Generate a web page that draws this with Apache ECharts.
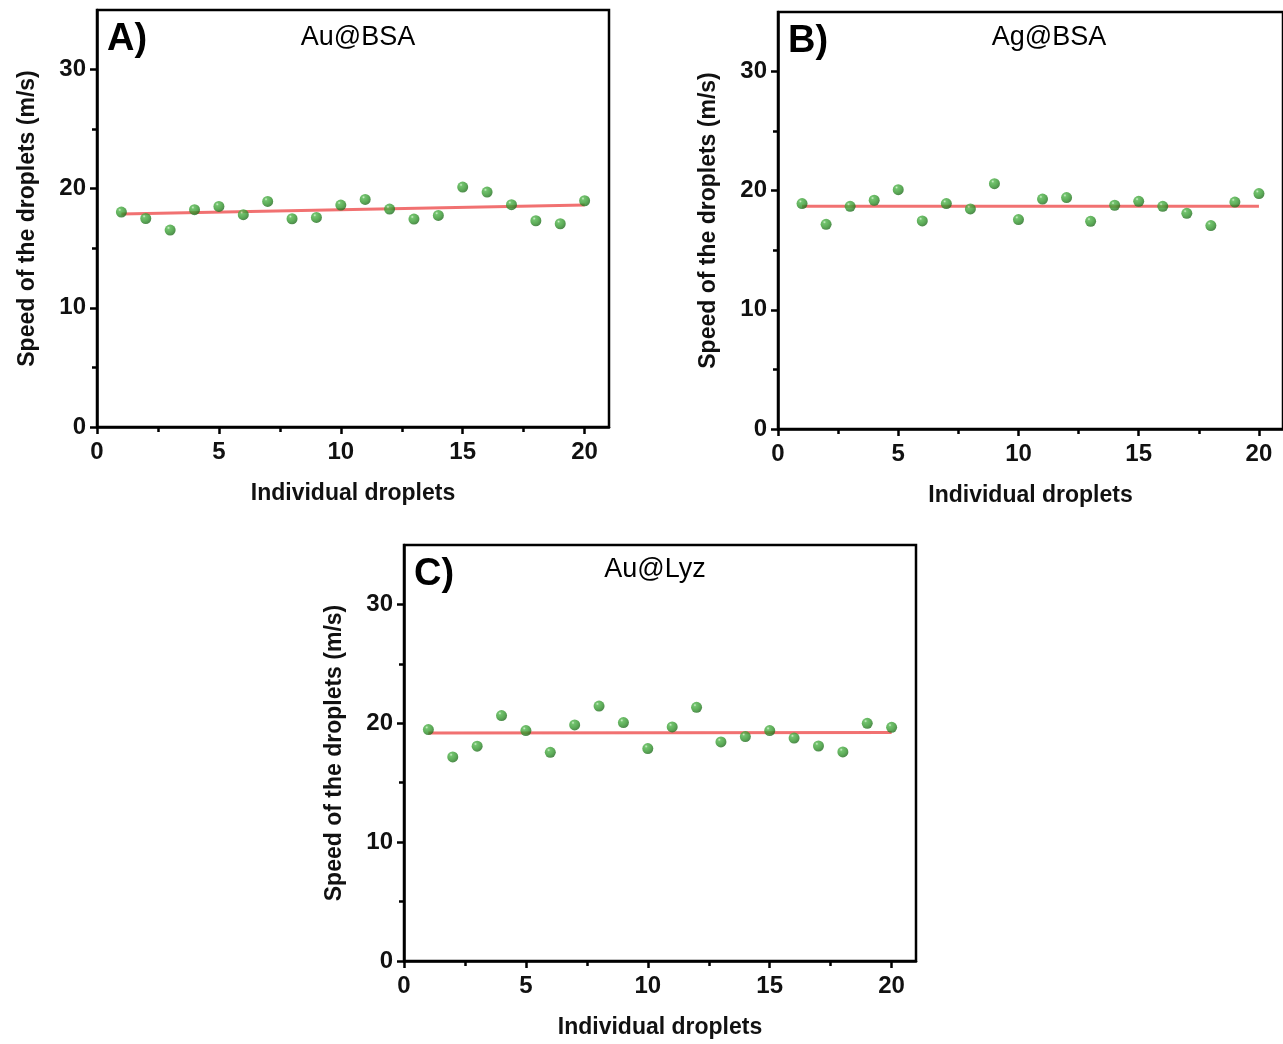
<!DOCTYPE html>
<html>
<head>
<meta charset="utf-8">
<script src="https://cdn.jsdelivr.net/npm/echarts@6/dist/echarts.min.js"></script>
<style>
html,body{margin:0;padding:0;background:#fff;}
#chart{width:1283px;height:1044px;}
</style>
</head>
<body>
<div id="chart"></div>
<script>
// ---- Data ----
const droplets = [1,2,3,4,5,6,7,8,9,10,11,12,13,14,15,16,17,18,19,20];
const auBSA = [18.04,17.5,16.53,18.24,18.51,17.82,18.93,17.48,17.59,18.63,19.1,18.29,17.45,17.76,20.14,19.72,18.66,17.31,17.06,18.99];
const agBSA = [18.92,17.18,18.69,19.2,20.09,17.46,18.92,18.47,20.59,17.58,19.3,19.42,17.43,18.78,19.11,18.69,18.1,17.07,19.05,19.76];
const auLyz = [19.47,17.17,18.07,20.65,19.39,17.56,19.86,21.45,20.06,17.87,19.69,21.34,18.43,18.88,19.39,18.76,18.09,17.59,20.0,19.66];
const fitX = [1, 20];
const fitAuBSA = [17.88, 18.63];
const fitAgBSA = [18.7, 18.7];
const fitAuLyz = [19.18, 19.22];
const panelLetters = ['A)', 'B)', 'C)'];
const panelNames = ['Au@BSA', 'Ag@BSA', 'Au@Lyz'];
const xMajorTicks = [0,5,10,15,20];
const xMinorTicks = [2.5,7.5,12.5,17.5];
const yMajorTicks = [0,10,20,30];
const yMinorTicks = [5,15,25];
const xTitle = 'Individual droplets';
const yTitle = 'Speed of the droplets (m/s)';

// ---- Layout ----
const grids = [
  {left: 97, top: 10, width: 512, height: 417},
  {left: 778, top: 12, width: 512, height: 417},
  {left: 404, top: 545, width: 512, height: 416}
];
const titlePos = [[358, 38], [1049, 38], [655, 570]];
const seriesVals = [auBSA, agBSA, auLyz];
const fitVals = [fitAuBSA, fitAgBSA, fitAuLyz];
const font = '"Liberation Sans", Arial, Helvetica, sans-serif';

const chart = echarts.init(document.getElementById('chart'), null, {renderer: 'canvas'});

const option = {
  backgroundColor: '#ffffff',
  animation: false,
  grid: [],
  xAxis: [],
  yAxis: [],
  series: [],
  graphic: []
};

const sphere = new echarts.graphic.RadialGradient(0.35, 0.3, 0.7, [
  {offset: 0, color: '#c8efc0'},
  {offset: 0.2, color: '#4fb34a'},
  {offset: 0.65, color: '#35982f'},
  {offset: 1, color: '#22701f'}
]);

grids.forEach((g, i) => {
  option.grid.push(Object.assign({show: true, borderColor: '#000', borderWidth: 2.5, backgroundColor: 'transparent', containLabel: false}, g));
  option.xAxis.push({
    type: 'value', gridIndex: i, min: 0, max: 21,
    name: xTitle, nameLocation: 'middle', nameGap: 55,
    nameTextStyle: {fontFamily: font, fontWeight: 'bold', fontSize: 23, color: '#111'},
    axisLine: {show: true, onZero: false, lineStyle: {color: '#000', width: 2.5}},
    axisTick: {show: true, inside: false, length: 7, customValues: xMajorTicks, lineStyle: {color: '#000', width: 2.5}},
    axisLabel: {show: true, customValues: xMajorTicks, margin: 13, fontFamily: font, fontWeight: 'bold', fontSize: 24, color: '#111'},
    splitLine: {show: false}
  });
  option.xAxis.push({
    type: 'value', gridIndex: i, min: 0, max: 21, position: 'bottom',
    axisLine: {show: false},
    axisTick: {show: true, inside: false, length: 5, customValues: xMinorTicks, lineStyle: {color: '#000', width: 2.5}},
    axisLabel: {show: false},
    splitLine: {show: false}
  });
  option.yAxis.push({
    type: 'value', gridIndex: i, min: 0, max: 35,
    name: yTitle, nameLocation: 'middle', nameGap: 58,
    nameTextStyle: {fontFamily: font, fontWeight: 'bold', fontSize: 23, color: '#111'},
    axisLine: {show: true, onZero: false, lineStyle: {color: '#000', width: 2.5}},
    axisTick: {show: true, inside: false, length: 7, customValues: yMajorTicks, lineStyle: {color: '#000', width: 2.5}},
    axisLabel: {show: true, customValues: yMajorTicks, margin: 11, fontFamily: font, fontWeight: 'bold', fontSize: 24, color: '#111'},
    splitLine: {show: false}
  });
  option.yAxis.push({
    type: 'value', gridIndex: i, min: 0, max: 35, position: 'left',
    axisLine: {show: false},
    axisTick: {show: true, inside: false, length: 5, customValues: yMinorTicks, lineStyle: {color: '#000', width: 2.5}},
    axisLabel: {show: false},
    splitLine: {show: false}
  });
  option.series.push({
    type: 'line', xAxisIndex: 2 * i, yAxisIndex: 2 * i,
    data: fitX.map((x, k) => [x, fitVals[i][k]]),
    symbol: 'none', lineStyle: {color: '#f06262', width: 3, opacity: 0.9}, z: 2
  });
  option.series.push({
    type: 'scatter', xAxisIndex: 2 * i, yAxisIndex: 2 * i,
    data: droplets.map((x, k) => [x, seriesVals[i][k]]),
    symbol: 'circle', symbolSize: 11,
    itemStyle: {color: sphere, borderWidth: 0}, z: 3
  });
  option.graphic.push({
    type: 'text', left: g.left + 10, top: g.top + 11,
    style: {text: panelLetters[i], fontFamily: font, fontWeight: 'bold', fontSize: 38, fill: '#000'}
  });
  option.graphic.push({
    type: 'text', x: titlePos[i][0], y: titlePos[i][1],
    style: {text: panelNames[i], fontFamily: font, fontSize: 27, fill: '#000', align: 'center', verticalAlign: 'middle'}
  });
});

chart.setOption(option);
</script>
</body>
</html>
